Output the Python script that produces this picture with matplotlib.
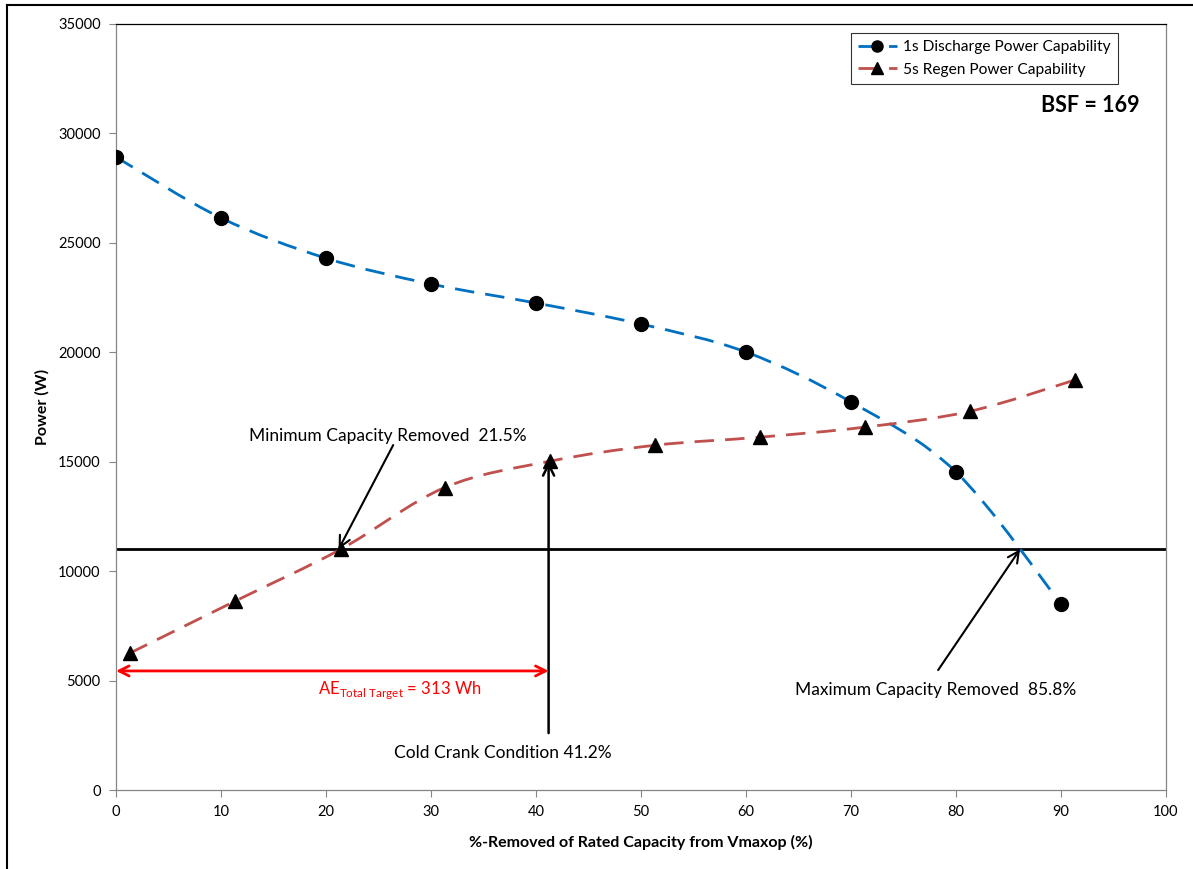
import numpy as np
import matplotlib
matplotlib.use('Agg')
import matplotlib.pyplot as plt
from matplotlib.path import Path
from matplotlib.patches import PathPatch
from matplotlib.lines import Line2D

plt.rcParams['font.family'] = ['Lato', 'DejaVu Sans']
plt.rcParams['mathtext.fontset'] = 'custom'
plt.rcParams['mathtext.rm'] = 'Lato'

# data
discharge_x = [0, 10, 20, 30, 40, 50, 60, 70, 80, 90]
discharge_y = [28920, 26140, 24300, 23120, 22250, 21290, 20010, 17730, 14530, 8500]
regen_x = [1.3, 11.3, 21.4, 31.3, 41.3, 51.3, 61.3, 71.3, 81.3, 91.3]
regen_y = [6250, 8620, 11000, 13820, 15020, 15750, 16120, 16580, 17300, 18730]

target_power = 11000
min_removed = 21.5
max_removed = 85.8
cold_crank = 41.2
ae_level = 5440

blue = '#0070C0'
red = '#C0504D'
grey = '#868686'


def smooth_path(xs, ys):
    # Excel style smoothed line through the points (Bezier segments)
    pts = np.column_stack([xs, ys]).astype(float)
    n = len(pts)
    verts = [pts[0]]
    codes = [Path.MOVETO]
    for i in range(n - 1):
        p0 = pts[i - 1] if i > 0 else pts[i]
        p1 = pts[i]
        p2 = pts[i + 1]
        p3 = pts[i + 2] if i + 2 < n else pts[i + 1]
        c1 = p1 + (p2 - p0) / 6.0
        c2 = p2 - (p3 - p1) / 6.0
        verts += [c1, c2, p2]
        codes += [Path.CURVE4] * 3
    return Path(verts, codes)


fig = plt.figure(figsize=(11.93, 8.69), dpi=100)
ax = fig.add_axes([116 / 1193, 1 - 790 / 869, 1050 / 1193, 766 / 869])

ax.add_patch(PathPatch(smooth_path(discharge_x, discharge_y), fill=False,
                       edgecolor=blue, lw=2.0, ls=(0, (7, 4)), zorder=3))
ax.add_patch(PathPatch(smooth_path(regen_x, regen_y), fill=False,
                       edgecolor=red, lw=2.0, ls=(0, (7, 4)), zorder=3))
ax.plot(discharge_x, discharge_y, ls='none', marker='o', ms=10, color='black', zorder=4)
ax.plot(regen_x, regen_y, ls='none', marker='^', ms=10, color='black', zorder=4)

# legend handles
h1 = Line2D([], [], color=blue, lw=2.0, ls=(0, (7, 4)), marker='o', ms=8, mfc='black', mec='black')
h2 = Line2D([], [], color=red, lw=2.0, ls=(0, (7, 4)), marker='^', ms=8, mfc='black', mec='black')
leg = ax.legend([h1, h2], ['1s Discharge Power Capability', '5s Regen Power Capability'],
                loc='upper right', bbox_to_anchor=(0.954, 0.988), borderaxespad=0,
                fontsize=11.2, frameon=True, fancybox=False, edgecolor='black',
                handlelength=2.5, borderpad=0.45, labelspacing=0.55, handletextpad=0.4)
leg.get_frame().set_linewidth(0.8)

ax.axhline(target_power, color='black', lw=2.0, zorder=2)

# AE target arrow
ax.annotate('', xy=(0, ae_level), xytext=(cold_crank, ae_level),
            arrowprops=dict(arrowstyle='<->', color='red', lw=2.0, mutation_scale=18,
                            shrinkA=0, shrinkB=0))
ax.text(27.0, 4570, r'AE$_{\mathrm{Total\ Target}}$ = 313 Wh', color='red',
        fontsize=12, ha='center', va='center')

# cold crank
ax.annotate('', xy=(cold_crank, 15000), xytext=(cold_crank, 2600),
            arrowprops=dict(arrowstyle='->', color='black', lw=1.8, mutation_scale=20,
                            shrinkA=0, shrinkB=0))
ax.text(36.8, 1690, 'Cold Crank Condition %.1f%%' % cold_crank, fontsize=12.5,
        ha='center', va='center')

# minimum / maximum capacity removed
ax.annotate('', xy=(21.2, target_power), xytext=(26.4, 15760),
            arrowprops=dict(arrowstyle='->', color='black', lw=1.5, mutation_scale=20,
                            shrinkA=0, shrinkB=0))
ax.text(25.9, 16180, 'Minimum Capacity Removed  %.1f%%' % min_removed, fontsize=12.5,
        ha='center', va='center')
ax.annotate('', xy=(86.1, target_power), xytext=(78.3, 5480),
            arrowprops=dict(arrowstyle='->', color='black', lw=1.5, mutation_scale=20,
                            shrinkA=0, shrinkB=0))
ax.text(78.1, 4570, 'Maximum Capacity Removed  %.1f%%' % max_removed, fontsize=12.5,
        ha='center', va='center')

ax.text(0.975, 0.894, 'BSF = 169', transform=ax.transAxes, fontsize=15.5,
        fontweight='bold', ha='right', va='center')

ax.set_xlim(0, 100)
ax.set_ylim(0, 35000)
ax.set_xticks(np.arange(0, 101, 10))
ax.set_yticks(np.arange(0, 35001, 5000))
ax.tick_params(direction='out', length=5, color=grey, labelsize=10.5, pad=6)
for side in ['left', 'bottom', 'right']:
    ax.spines[side].set_color(grey)
ax.spines['top'].set_color('black')
for s in ax.spines.values():
    s.set_linewidth(0.9)

ax.set_xlabel('%-Removed of Rated Capacity from Vmaxop (%)', fontsize=11.5,
              fontweight='bold', labelpad=11)
ax.set_ylabel('Power (W)', fontsize=11.5, fontweight='bold', labelpad=6)

# outer chart frame (cut off on right and bottom)
fig.add_artist(Line2D([7 / 1193, 7 / 1193], [0, 1 - 5 / 869], color='black', lw=1.5,
                      transform=fig.transFigure))
fig.add_artist(Line2D([7 / 1193, 1], [1 - 5 / 869, 1 - 5 / 869], color='black', lw=1.5,
                      transform=fig.transFigure))

fig.savefig('out.png', dpi=100)
